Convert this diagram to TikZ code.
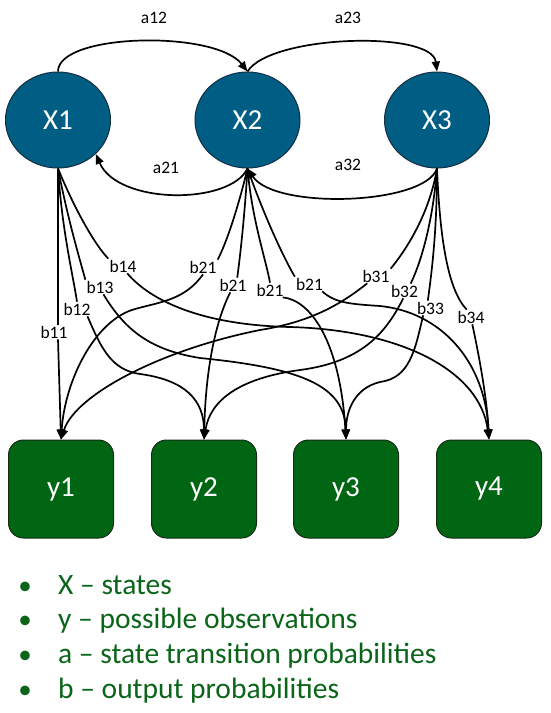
\documentclass[tikz,border=0pt]{standalone}
\usepackage{fontspec}
\setmainfont{Carlito}
\usetikzlibrary{shapes.geometric,arrows.meta}
\definecolor{xblue}{RGB}{0,94,133}
\definecolor{xline}{RGB}{20,45,65}
\definecolor{ygreen}{RGB}{0,102,20}
\definecolor{yline}{RGB}{20,45,20}
\definecolor{tgreen}{RGB}{10,100,25}
\begin{document}
\begin{tikzpicture}[x=1pt,y=-1pt,
  state/.style={ellipse, fill=xblue, draw=xline, line width=1pt, minimum width=105pt, minimum height=96pt, inner sep=0pt, text=white, font=\fontsize{29}{34}\selectfont},
  obs/.style={rectangle, rounded corners=15pt, fill=ygreen, draw=yline, line width=1pt, minimum width=105pt, minimum height=98pt, inner sep=0pt, text=white, font=\fontsize{29}{34}\selectfont},
  lab/.style={font=\fontsize{17.5}{20}\selectfont, inner sep=1pt},
  edge/.style={line width=1.7pt, black},
  arr/.style={edge, -{Triangle[length=10pt,width=8pt]}},
  bul/.style={text=tgreen, font=\fontsize{29.5}{35}\selectfont, anchor=base west, inner sep=0pt},
  bulmark/.style={text=tgreen, font=\fontsize{27}{33}\selectfont, anchor=base, inner sep=0pt}
]
\useasboundingbox (0,0) rectangle (550,713);
% states
\node[state] (X1) at (58,120) {X1};
\node[state] (X2) at (247.5,120) {X2};
\node[state] (X3) at (437,120) {X3};
% observations
\node[obs] (y1) at (61,489) {y1};
\node[obs] (y2) at (204,489) {y2};
\node[obs] (y3) at (346,489) {y3};
\node[obs] (y4) at (489,489) {y4};
% transition labels
\node[lab] (a12) at (154,18) {a12};
\node[lab] (a23) at (348,18) {a23};
\node[lab] (a21) at (166,168) {a21};
\node[lab] (a32) at (348,165) {a32};
% output labels
\node[lab] (b11) at (54,332) {b11};
\node[lab] (b12) at (77,309) {b12};
\node[lab] (b13) at (100,287) {b13};
\node[lab] (b14) at (123,266) {b14};
\node[lab] (b21a) at (203,267) {b21};
\node[lab] (b21b) at (233,285) {b21};
\node[lab] (b21c) at (270,290) {b21};
\node[lab] (b21d) at (309.5,284) {b21};
\node[lab] (b31) at (376,276) {b31};
\node[lab] (b32) at (404.5,291) {b32};
\node[lab] (b33) at (430.5,308) {b33};
\node[lab] (b34) at (471,317) {b34};
% transitions
\draw[arr] (X1.north) .. controls (58,33) and (215,30) .. (X2.north);
\draw[arr] (X2.north) .. controls (270,35) and (432,30) .. (X3.north);
\draw[arr] (X2.south) .. controls (230,205) and (118,205) .. (X1.-42);
\draw[arr] (X3.south) .. controls (425,205) and (275,210) .. (X2.south);
% X1 outputs
\draw[edge] (X1.south) -- (X1.south |- b11.north);
\draw[arr] (X1.south |- b11.south) -- (y1.north);
\draw[edge] (X1.south) .. controls (62,230) and (72,270) .. (b12.north);
\draw[arr] (b12.-35) .. controls (100,345) and (110,370) .. (140,374) .. controls (185,380) and (204,400) .. (y2.north);
\draw[edge] (X1.south) .. controls (68,220) and (80,260) .. (b13.north west);
\draw[arr] (b13.-65) .. controls (125,330) and (150,350) .. (200,358) .. controls (300,368) and (345,385) .. (y3.north);
\draw[edge] (X1.south) .. controls (75,210) and (95,245) .. (b14.north west);
\draw[arr] (b14.-60) .. controls (150,300) and (200,325) .. (290,327) .. controls (400,330) and (480,370) .. (y4.north);
% X2 outputs
\draw[edge] (X2.south) .. controls (240,200) and (228,240) .. (b21a.north east);
\draw[arr] (b21a.south) .. controls (185,300) and (160,302) .. (135,309) .. controls (95,320) and (65,380) .. (y1.north);
\draw[edge] (X2.south) .. controls (245,210) and (241,250) .. (b21b.60);
\draw[arr] (b21b.-110) .. controls (222,308) and (206,350) .. (y2.north);
\draw[edge] (X2.south) .. controls (252,220) and (266,260) .. (b21c.north);
\draw[arr] (b21c.-30) .. controls (310,300) and (340,340) .. (y3.north);
\draw[edge] (X2.south) .. controls (262,210) and (282,255) .. (b21d.north west);
\draw[arr] (b21d.-30) .. controls (335,303) and (350,304) .. (380,306) .. controls (440,312) and (485,360) .. (y4.north);
% X3 outputs
\draw[edge] (X3.south) .. controls (430,210) and (410,245) .. (b31.north east);
\draw[arr] (b31.-140) .. controls (340,305) and (310,322) .. (260,330) .. controls (160,350) and (75,395) .. (y1.north);
\draw[edge] (X3.south) .. controls (433,220) and (422,260) .. (b32.50);
\draw[arr] (b32.-100) .. controls (385,335) and (360,362) .. (300,370) .. controls (240,378) and (210,400) .. (y2.north);
\draw[edge] (X3.south) .. controls (437,230) and (432,270) .. (b33.110);
\draw[arr] (b33.-135) .. controls (415,350) and (410,378) .. (380,382) .. controls (355,388) and (346,410) .. (y3.north);
\draw[edge] (X3.south) .. controls (440,240) and (448,290) .. (b34.120);
\draw[arr] (b34.-80) .. controls (480,360) and (487,400) .. (y4.north);
% legend
\node[bulmark] (d1) at (25,594) {•};
\node[bulmark] (d2) at (25,628) {•};
\node[bulmark] (d3) at (25,663) {•};
\node[bulmark] (d4) at (25,698) {•};
\node[bul] (t1) at (58,594) {X – states};
\node[bul] (t2) at (58,628) {y – possible observations};
\node[bul] (t3) at (58,663) {a – state transition probabilities};
\node[bul] (t4) at (58,698) {b – output probabilities};
\end{tikzpicture}
\end{document}
